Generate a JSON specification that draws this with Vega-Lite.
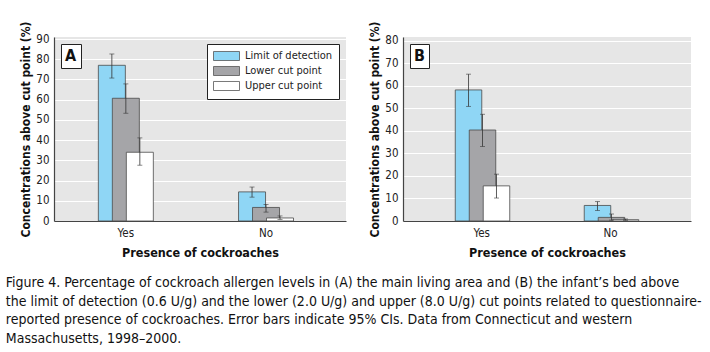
{
  "$schema": "https://vega.github.io/schema/vega-lite/v6.json",
  "padding": {"left": 5, "top": 20, "right": 5, "bottom": 0},
  "background": "white",
  "config": {
    "font": "DejaVu Sans Condensed, Roboto",
    "view": {"fill": "#e6e6e6", "stroke": null},
    "axis": {"labelFont": "DejaVu Sans Condensed, Roboto", "titleFont": "DejaVu Sans Condensed, Roboto", "labelColor": "#222", "titleColor": "#111", "domainColor": "#444", "ticks": false, "labelOverlap": false},
    "concat": {"spacing": 22}
  },
  "title": {
    "text": [
      "Figure 4. Percentage of cockroach allergen levels in (A) the main living area and (B) the infant’s bed above",
      "the limit of detection (0.6 U/g) and the lower (2.0 U/g) and upper (8.0 U/g) cut points related to questionnaire-",
      "reported presence of cockroaches. Error bars indicate 95% CIs. Data from Connecticut and western",
      "Massachusetts, 1998–2000."
    ],
    "orient": "bottom",
    "anchor": "start",
    "font": "DejaVu Sans Condensed, Roboto",
    "fontSize": 14,
    "fontWeight": "normal",
    "color": "#111",
    "lineHeight": 18.5,
    "offset": 17,
    "dx": -14
  },
  "resolve": {"scale": {"color": "independent", "opacity": "independent"}, "legend": {"color": "independent", "opacity": "independent"}},
  "datasets": {
    "a": [
      {"panel": "A", "presence": "Yes", "level": "Limit of detection", "pct": 77, "lo": 70.7, "hi": 82.6},
      {"panel": "A", "presence": "Yes", "level": "Lower cut point", "pct": 60.7, "lo": 53.3, "hi": 67.8},
      {"panel": "A", "presence": "Yes", "level": "Upper cut point", "pct": 34.0, "lo": 27.6, "hi": 41.1},
      {"panel": "A", "presence": "No", "level": "Limit of detection", "pct": 14.4, "lo": 11.8, "hi": 16.8},
      {"panel": "A", "presence": "No", "level": "Lower cut point", "pct": 6.7, "lo": 4.4, "hi": 8.2},
      {"panel": "A", "presence": "No", "level": "Upper cut point", "pct": 1.5, "lo": 0.8, "hi": 2.5}
    ],
    "b": [
      {"panel": "B", "presence": "Yes", "level": "Limit of detection", "pct": 58.2, "lo": 50.9, "hi": 65.2},
      {"panel": "B", "presence": "Yes", "level": "Lower cut point", "pct": 40.4, "lo": 33.1, "hi": 47.4},
      {"panel": "B", "presence": "Yes", "level": "Upper cut point", "pct": 15.6, "lo": 10.2, "hi": 20.8},
      {"panel": "B", "presence": "No", "level": "Limit of detection", "pct": 6.9, "lo": 4.7, "hi": 8.6},
      {"panel": "B", "presence": "No", "level": "Lower cut point", "pct": 1.6, "lo": 0.4, "hi": 3.1},
      {"panel": "B", "presence": "No", "level": "Upper cut point", "pct": 0.6, "lo": 0.3, "hi": 0.9}
    ]
  },
  "hconcat": [
    {
      "width": 292,
      "height": 184,
      "data": {"name": "a"},
      "encoding": {
        "x": {"field": "presence", "type": "nominal", "sort": ["Yes", "No"],
          "scale": {"paddingInner": 0.608, "paddingOuter": 0.3455, "align": 0.458},
          "axis": {"title": "Presence of cockroaches", "labelAngle": 0, "labelFontSize": 11.5, "labelPadding": 6, "titleFontSize": 12.5, "titleFontWeight": "bold", "titlePadding": 8, "domainWidth": 1.2}},
        "xOffset": {"field": "level", "type": "nominal", "sort": ["Limit of detection", "Lower cut point", "Upper cut point"],
          "scale": {"paddingInner": 0, "paddingOuter": 0.464}}
      },
      "layer": [
        {
          "mark": {"type": "bar", "width": 27, "stroke": "#4a4a4a", "strokeWidth": 0.8},
          "encoding": {
            "y": {"field": "pct", "type": "quantitative",
              "scale": {"domain": [0, 91], "nice": false},
              "axis": {"title": "Concentrations above cut point (%)", "values": [0,10,20,30,40,50,60,70,80,90], "labelFontSize": 11.5, "labelPadding": 5, "titleFontSize": 12, "titleFontWeight": "bold", "titlePadding": 3, "gridColor": "white", "gridWidth": 1, "domainWidth": 1.2}},
            "color": {"field": "level", "type": "nominal", "sort": ["Limit of detection", "Lower cut point", "Upper cut point"],
              "scale": {"range": ["#8fd6f5", "#a5a5a8", "#ffffff"]},
              "legend": {"title": null, "orient": "top-right", "offset": 7, "fillColor": "white", "strokeColor": "#222", "padding": 6,
                "symbolType": "M-1,-0.82H3.73V0.82H-1Z", "symbolSize": 121, "symbolStrokeColor": "#555", "symbolStrokeWidth": 0.8, "symbolOpacity": 1,
                "labelFont": "DejaVu Sans Condensed, Roboto", "labelFontSize": 11, "labelColor": "#222", "labelOffset": 20, "rowPadding": 1}},
            "opacity": {"field": "panel", "type": "nominal",
              "scale": {"range": [1, 1]},
              "legend": {"title": null, "orient": "top-left", "offset": 7, "fillColor": "white", "strokeColor": "#222", "padding": 4,
                "symbolSize": 0, "symbolOpacity": 0, "symbolStrokeWidth": 0, "labelOffset": -16, "labelFont": "DejaVu Sans Condensed, Roboto", "labelFontSize": 16, "labelFontWeight": "bold", "labelColor": "#111"}}
          }
        },
        {"mark": {"type": "rule", "color": "#333", "strokeWidth": 0.8}, "encoding": {"y": {"field": "lo", "type": "quantitative",
              "axis": {"title": "Concentrations above cut point (%)", "values": [0,10,20,30,40,50,60,70,80,90], "labelFontSize": 11.5, "labelPadding": 5, "titleFontSize": 12, "titleFontWeight": "bold", "titlePadding": 3, "gridColor": "white", "gridWidth": 1, "domainWidth": 1.2}}, "y2": {"field": "hi"}}},
        {"mark": {"type": "tick", "color": "#333", "size": 5, "thickness": 0.8}, "encoding": {"y": {"field": "lo", "type": "quantitative",
              "axis": {"title": "Concentrations above cut point (%)", "values": [0,10,20,30,40,50,60,70,80,90], "labelFontSize": 11.5, "labelPadding": 5, "titleFontSize": 12, "titleFontWeight": "bold", "titlePadding": 3, "gridColor": "white", "gridWidth": 1, "domainWidth": 1.2}}}},
        {"mark": {"type": "tick", "color": "#333", "size": 5, "thickness": 0.8}, "encoding": {"y": {"field": "hi", "type": "quantitative",
              "axis": {"title": "Concentrations above cut point (%)", "values": [0,10,20,30,40,50,60,70,80,90], "labelFontSize": 11.5, "labelPadding": 5, "titleFontSize": 12, "titleFontWeight": "bold", "titlePadding": 3, "gridColor": "white", "gridWidth": 1, "domainWidth": 1.2}}}}
      ]
    },
    {
      "width": 288,
      "height": 184,
      "data": {"name": "b"},
      "encoding": {
        "x": {"field": "presence", "type": "nominal", "sort": ["Yes", "No"],
          "scale": {"paddingInner": 0.587, "paddingOuter": 0.41, "align": 0.492},
          "axis": {"title": "Presence of cockroaches", "labelAngle": 0, "labelFontSize": 11.5, "labelPadding": 6, "titleFontSize": 12.5, "titleFontWeight": "bold", "titlePadding": 8, "domainWidth": 1.2}},
        "xOffset": {"field": "level", "type": "nominal", "sort": ["Limit of detection", "Lower cut point", "Upper cut point"],
          "scale": {"paddingInner": 0, "paddingOuter": 0.5}}
      },
      "layer": [
        {
          "mark": {"type": "bar", "width": 26.5, "stroke": "#4a4a4a", "strokeWidth": 0.8},
          "encoding": {
            "y": {"field": "pct", "type": "quantitative",
              "scale": {"domain": [0, 81.7], "nice": false},
              "axis": {"title": "Concentrations above cut point (%)", "values": [0,10,20,30,40,50,60,70,80], "labelFontSize": 11.5, "labelPadding": 5, "titleFontSize": 12, "titleFontWeight": "bold", "titlePadding": 3, "gridColor": "white", "gridWidth": 1, "domainWidth": 1.2}},
            "color": {"field": "level", "type": "nominal", "sort": ["Limit of detection", "Lower cut point", "Upper cut point"],
              "scale": {"range": ["#8fd6f5", "#a5a5a8", "#ffffff"]},
              "legend": null},
            "opacity": {"field": "panel", "type": "nominal",
              "scale": {"range": [1, 1]},
              "legend": {"title": null, "orient": "top-left", "offset": 7, "fillColor": "white", "strokeColor": "#222", "padding": 4,
                "symbolSize": 0, "symbolOpacity": 0, "symbolStrokeWidth": 0, "labelOffset": -16, "labelFont": "DejaVu Sans Condensed, Roboto", "labelFontSize": 16, "labelFontWeight": "bold", "labelColor": "#111"}}
          }
        },
        {"mark": {"type": "rule", "color": "#333", "strokeWidth": 0.8}, "encoding": {"y": {"field": "lo", "type": "quantitative",
              "axis": {"title": "Concentrations above cut point (%)", "values": [0,10,20,30,40,50,60,70,80], "labelFontSize": 11.5, "labelPadding": 5, "titleFontSize": 12, "titleFontWeight": "bold", "titlePadding": 3, "gridColor": "white", "gridWidth": 1, "domainWidth": 1.2}}, "y2": {"field": "hi"}}},
        {"mark": {"type": "tick", "color": "#333", "size": 5, "thickness": 0.8}, "encoding": {"y": {"field": "lo", "type": "quantitative",
              "axis": {"title": "Concentrations above cut point (%)", "values": [0,10,20,30,40,50,60,70,80], "labelFontSize": 11.5, "labelPadding": 5, "titleFontSize": 12, "titleFontWeight": "bold", "titlePadding": 3, "gridColor": "white", "gridWidth": 1, "domainWidth": 1.2}}}},
        {"mark": {"type": "tick", "color": "#333", "size": 5, "thickness": 0.8}, "encoding": {"y": {"field": "hi", "type": "quantitative",
              "axis": {"title": "Concentrations above cut point (%)", "values": [0,10,20,30,40,50,60,70,80], "labelFontSize": 11.5, "labelPadding": 5, "titleFontSize": 12, "titleFontWeight": "bold", "titlePadding": 3, "gridColor": "white", "gridWidth": 1, "domainWidth": 1.2}}}}
      ]
    }
  ]
}
